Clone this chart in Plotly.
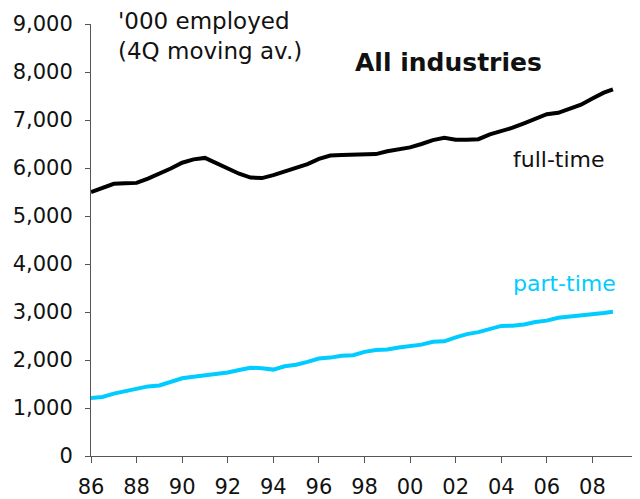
import plotly.graph_objects as go

years = [1986.0, 1986.5, 1987.0, 1987.5, 1988.0, 1988.5, 1989.0, 1989.5, 1990.0, 1990.5,
         1991.0, 1991.5, 1992.0, 1992.5, 1993.0, 1993.5, 1994.0, 1994.5, 1995.0, 1995.5,
         1996.0, 1996.5, 1997.0, 1997.5, 1998.0, 1998.5, 1999.0, 1999.5, 2000.0, 2000.5,
         2001.0, 2001.5, 2002.0, 2002.5, 2003.0, 2003.5, 2004.0, 2004.5, 2005.0, 2005.5,
         2006.0, 2006.5, 2007.0, 2007.5, 2008.0, 2008.5, 2008.9]

full_time = [5500, 5590, 5670, 5680, 5690, 5780, 5880, 5990, 6110, 6180,
             6210, 6100, 5970, 5880, 5800, 5790, 5850, 5920, 5990, 6080,
             6190, 6260, 6270, 6270, 6270, 6290, 6350, 6380, 6430, 6500,
             6580, 6630, 6590, 6590, 6600, 6700, 6760, 6840, 6930, 7030,
             7120, 7150, 7240, 7320, 7450, 7570, 7640]

part_time = [1210, 1230, 1300, 1350, 1420, 1450, 1470, 1550, 1620, 1650,
             1680, 1700, 1740, 1790, 1840, 1830, 1800, 1870, 1900, 1960,
             2030, 2050, 2090, 2100, 2170, 2210, 2220, 2260, 2290, 2320,
             2380, 2390, 2470, 2540, 2580, 2650, 2710, 2715, 2740, 2790,
             2820, 2880, 2900, 2935, 2940, 2980, 3005]

x_tick_vals = [1986, 1988, 1990, 1992, 1994, 1996, 1998, 2000, 2002, 2004, 2006, 2008, 2010]
x_tick_text = ["86", "88", "90", "92", "94", "96", "98", "00", "02", "04", "06", "08", ""]
y_tick_vals = [0, 1000, 2000, 3000, 4000, 5000, 6000, 7000, 8000, 9000]

FONT = "DejaVu Sans"
CYAN = "#00CCFF"
TXT = "#111111"

fig = go.Figure()
fig.add_trace(go.Scatter(x=years, y=full_time, mode="lines",
                         line=dict(color="black", width=4), name="full-time"))
fig.add_trace(go.Scatter(x=years, y=part_time, mode="lines",
                         line=dict(color=CYAN, width=4), name="part-time"))

fig.update_layout(
    width=632, height=491,
    margin=dict(l=83, r=2, t=16, b=43),
    paper_bgcolor="white", plot_bgcolor="white",
    showlegend=False,
    font=dict(family=FONT, size=21, color=TXT),
    xaxis=dict(range=[1986, 2010], tickvals=x_tick_vals, ticktext=x_tick_text,
               showgrid=False, zeroline=False, showline=True, linecolor="#555555",
               linewidth=1, ticks="outside", ticklen=6, tickcolor="#555555",
               automargin=False, ticklabelstandoff=6,
               tickfont=dict(family=FONT, size=21, color=TXT)),
    yaxis=dict(range=[0, 9000], tickvals=y_tick_vals, tickformat=",d",
               showgrid=False, zeroline=False, showline=True, linecolor="#555555",
               linewidth=1, ticks="outside", ticklen=5, tickcolor="#555555",
               automargin=False, ticklabelstandoff=8,
               tickfont=dict(family=FONT, size=21, color=TXT)),
)

fig.add_annotation(x=0.0457, y=0.972, xref="paper", yref="paper", xanchor="left", yanchor="middle",
                   text="'000 employed<br>(4Q moving av.)", showarrow=False, align="left",
                   font=dict(family=FONT, size=23, color=TXT))
fig.add_annotation(x=0.479, y=0.912, xref="paper", yref="paper", xanchor="left", yanchor="middle",
                   text="<b>All industries</b>", showarrow=False,
                   font=dict(family=FONT, size=25, color=TXT))
fig.add_annotation(x=0.768, y=0.6875, xref="paper", yref="paper", xanchor="left", yanchor="middle",
                   text="full-time", showarrow=False,
                   font=dict(family=FONT, size=22, color=TXT))
fig.add_annotation(x=0.768, y=0.40, xref="paper", yref="paper", xanchor="left", yanchor="middle",
                   text="part-time", showarrow=False,
                   font=dict(family=FONT, size=22, color=CYAN))

fig.write_html("out.html")
